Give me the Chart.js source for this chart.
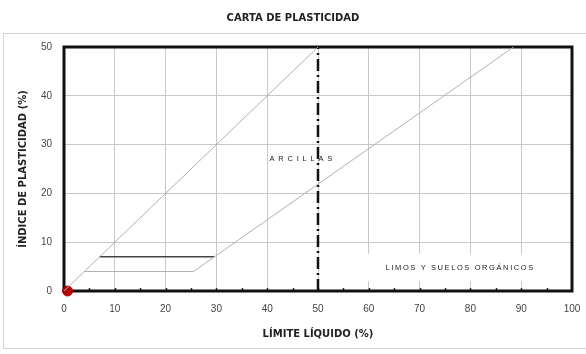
<!DOCTYPE html>
<html>
<head>
<meta charset="utf-8">
<script src="https://cdn.jsdelivr.net/npm/chart.js@4"></script>
<style>
  html, body { margin: 0; padding: 0; background: #fff; }
  #wrap { width: 586px; height: 354px; }
</style>
</head>
<body>
<div id="wrap"><canvas id="plasticityChart" width="586" height="354"></canvas></div>
<script>
// ==================== DATA =====================
const xTickValues = [0, 10, 20, 30, 40, 50, 60, 70, 80, 90, 100];
const yTickValues = [0, 10, 20, 30, 40, 50];

// linea superior (IP = LL)
const upperLineLL = [0, 50];
const upperLinePI = [0, 50];

// linea A con tramo horizontal IP = 4
const aLineLL = [4, 25.5, 88.5];
const aLinePI = [4, 4, 50];

// tramo horizontal IP = 7
const pi7LL = [7, 29.6];
const pi7PI = [7, 7];

// linea vertical LL = 50
const ll50LL = [50, 50];
const ll50PI = [0, 50];

// muestra
const sampleLL = [0.7];
const samplePI = [0];

// zonas
const zoneNames = ["ARCILLAS", "LIMOS Y SUELOS ORGÁNICOS"];
const zoneLL = [47, 78];
const zonePI = [27, 4.7];

const toPoints = (xs, ys) => xs.map((x, i) => ({ x: x, y: ys[i] }));

// ============== PLUGINS ===============
const framePlugin = {
  id: "frame",
  beforeDraw(chart) {
    const ctx = chart.ctx;
    ctx.save();
    ctx.strokeStyle = "#d4d4d4";
    ctx.lineWidth = 1;
    ctx.strokeRect(3.5, 33.5, 600, 315);
    ctx.restore();
  },
  beforeDatasetsDraw(chart) {
    const { ctx, chartArea, scales } = chart;
    const x = scales.x, y = scales.y;
    ctx.save();
    // caja blanca detras del texto de limos
    const bx = x.getPixelForValue(59.6);
    const by = y.getPixelForValue(7.6);
    ctx.fillStyle = "#fff";
    ctx.fillRect(bx, by, chartArea.right - bx, y.getPixelForValue(2) - by);
    // marcas menores en eje x
    ctx.strokeStyle = "#222";
    ctx.lineWidth = 1.5;
    for (let v = 5; v < 100; v += 5) {
      const px = Math.round(x.getPixelForValue(v)) + 0.5;
      ctx.beginPath();
      ctx.moveTo(px, chartArea.bottom - 3);
      ctx.lineTo(px, chartArea.bottom);
      ctx.stroke();
    }
    // marco
    ctx.strokeStyle = "#111";
    ctx.lineWidth = 3;
    ctx.strokeRect(chartArea.left, chartArea.top, chartArea.right - chartArea.left, chartArea.bottom - chartArea.top);
    ctx.restore();
  },
  afterDatasetsDraw(chart) {
    const { ctx, scales } = chart;
    ctx.save();
    ctx.fillStyle = "#222";
    ctx.font = "7.5px 'Liberation Sans', Arial, sans-serif";
    ctx.textAlign = "center";
    ctx.textBaseline = "middle";
    zoneNames.forEach((name, i) => {
      ctx.letterSpacing = i === 0 ? "3.8px" : "1.6px";
      ctx.fillText(name, scales.x.getPixelForValue(zoneLL[i]), scales.y.getPixelForValue(zonePI[i]));
    });
    ctx.restore();
  },
};

// ============== CHART ===============
const axisFont = { family: "'Liberation Sans', Arial, sans-serif", size: 10 };
const titleFont = { family: "'DejaVu Sans', Verdana, sans-serif", size: 10, weight: "bold" };

new Chart(document.getElementById("plasticityChart"), {
  type: "scatter",
  data: {
    datasets: [
      {
        data: toPoints(upperLineLL, upperLinePI),
        showLine: true,
        borderColor: "#b0b0b0",
        borderWidth: 1,
        pointRadius: 0,
      },
      {
        data: toPoints(aLineLL, aLinePI),
        showLine: true,
        borderColor: "#b0b0b0",
        borderWidth: 1,
        pointRadius: 0,
      },
      {
        data: toPoints(pi7LL, pi7PI),
        showLine: true,
        borderColor: "#444",
        borderWidth: 1.5,
        pointRadius: 0,
      },
      {
        data: toPoints(ll50LL, ll50PI),
        showLine: true,
        borderColor: "#111",
        borderWidth: 2.5,
        borderDash: [12, 4, 2, 4],
        pointRadius: 0,
      },
      {
        data: toPoints(sampleLL, samplePI),
        pointRadius: 5,
        pointBackgroundColor: "#b00000",
        pointBorderColor: "#b00000",
        clip: false,
      },
    ],
  },
  options: {
    responsive: false,
    animation: false,
    layout: { padding: { left: 0, right: 0, top: 0, bottom: 0 } },
    plugins: {
      legend: { display: false },
      tooltip: { enabled: false },
      title: {
        display: true,
        text: "CARTA DE PLASTICIDAD",
        color: "#222",
        font: titleFont,
        padding: { top: 12, bottom: 23 },
      },
    },
    scales: {
      x: {
        type: "linear",
        min: 0,
        max: 100,
        afterFit: (s) => {
          s.height = 63;
          s.paddingLeft = 0;
          s.paddingRight = 0;
        },
        afterBuildTicks: (s) => {
          s.ticks = xTickValues.map((v) => ({ value: v }));
        },
        ticks: {
          color: "#444",
          font: axisFont,
          padding: 12,
          maxRotation: 0,
        },
        grid: { color: "#c8c8c8", lineWidth: 1, drawTicks: false },
        border: { display: false },
        title: {
          display: true,
          text: "LÍMITE LÍQUIDO (%)",
          color: "#222",
          font: titleFont,
          padding: { top: 0, bottom: 14 },
        },
      },
      y: {
        type: "linear",
        min: 0,
        max: 50,
        afterFit: (s) => { s.width = 64; },
        afterBuildTicks: (s) => {
          s.ticks = yTickValues.map((v) => ({ value: v }));
        },
        ticks: {
          color: "#444",
          font: axisFont,
          padding: 12,
        },
        grid: { color: "#c8c8c8", lineWidth: 1, drawTicks: false },
        border: { display: false },
        title: {
          display: true,
          text: "ÍNDICE DE PLASTICIDAD (%)",
          color: "#222",
          font: titleFont,
          padding: { top: 17, bottom: 0 },
        },
      },
      y2: {
        position: "right",
        display: true,
        afterFit: (s) => {
          s.width = 14;
          s.paddingTop = 0;
          s.paddingBottom = 0;
        },
        ticks: { display: false },
        grid: { display: false },
        border: { display: false },
      },
    },
  },
  plugins: [framePlugin],
});
</script>
</body>
</html>
